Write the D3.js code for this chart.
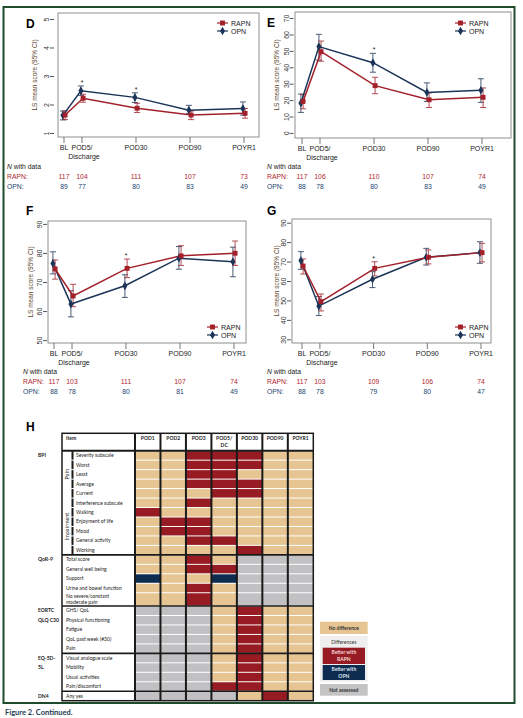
<!DOCTYPE html>
<html>
<head>
<meta charset="utf-8">
<script src="https://cdn.jsdelivr.net/npm/d3@7"></script>
<style>
    html, body { margin: 0; padding: 0; background: #fff; }
    svg { display: block; }
</style>
</head>
<body>
<div id="chart"></div>
<script>
// Visits on the x axis and where they sit on the study timeline.
var visits = ["BL", "POD5/|Discharge", "POD30", "POD90", "POYR1"];
var visitPos = [0, 1, 4, 7, 10];

// LS mean score per visit: [mean, lower 95% CI, upper 95% CI].
var dRapn = [[1.63, 1.47, 1.78], [2.22, 2.08, 2.36], [1.87, 1.72, 2.04], [1.63, 1.47, 1.77], [1.69, 1.52, 1.86]];
var dOpn  = [[1.62, 1.46, 1.77], [2.48, 2.32, 2.65], [2.25, 2.07, 2.41], [1.80, 1.68, 1.97], [1.86, 1.63, 2.09]];
var dStar = [false, true, true, false, false];
var dNRapn = [117, 104, 111, 107, 73];
var dNOpn  = [89, 77, 80, 83, 49];

var eRapn = [[19.2, 14.7, 23.3], [49.5, 43.7, 56.0], [28.8, 23.9, 33.9], [20.2, 15.5, 24.4], [21.7, 15.5, 27.4]];
var eOpn  = [[18.2, 12.5, 23.7], [52.6, 44.4, 60.1], [42.8, 37.0, 48.5], [24.7, 19.2, 30.5], [26.0, 18.6, 33.0]];
var eStar = [false, false, true, false, false];
var eNRapn = [117, 106, 110, 107, 74];
var eNOpn  = [88, 78, 80, 83, 49];

var fRapn = [[74.5, 71.0, 77.6], [65.2, 61.5, 69.2], [74.7, 71.5, 77.9], [79.0, 75.7, 82.5], [79.9, 75.7, 84.1]];
var fOpn  = [[76.4, 72.8, 80.4], [62.4, 58.0, 67.0], [68.7, 64.7, 72.5], [78.2, 74.4, 82.2], [77.0, 71.8, 82.0]];
var fStar = [false, false, true, false, false];
var fNRapn = [117, 103, 111, 107, 74];
var fNOpn  = [88, 78, 80, 81, 49];

var gRapn = [[67.7, 63.6, 71.3], [49.4, 44.6, 53.3], [66.5, 62.6, 69.9], [72.2, 68.8, 76.0], [74.6, 69.8, 79.4]];
var gOpn  = [[70.5, 66.0, 75.1], [47.1, 42.2, 52.0], [60.9, 56.6, 64.8], [72.2, 68.2, 76.8], [74.6, 69.1, 80.2]];
var gStar = [false, false, true, false, false];
var gNRapn = [117, 103, 109, 106, 74];
var gNOpn  = [88, 78, 79, 80, 47];

// Panel H: significance grid.
var heatCols = ["POD1", "POD2", "POD3", "POD5/|DC", "POD30", "POD90", "POYR1"];
var heatItems = ["Severity subscale", "Worst", "Least", "Average", "Current",
    "Interference subscale", "Walking", "Enjoyment of life", "Mood", "General activity", "Working",
    "Total score", "General well being", "Support", "Urine and bowel function", "No severe/constant|moderate pain",
    "GHS/ QoL", "Physical functioning", "Fatigue", "QoL past week (#30)", "Pain",
    "Visual analogue scale", "Mobility", "Usual activities", "Pain/discomfort",
    "Any yes"];
// N = no difference, R = better with RAPN, O = better with OPN, X = not assessed
var heatCodes = ["NNRRRNN", "NNRRRNN", "NNRRNNN", "NNRRRNN", "NNNRRNN",
    "NNRNNNN", "RNNNNNN", "NRRNNNN", "NRRNNNN", "NNRRNNN", "NNNNRNN",
    "NNRNXXX", "NNRRXXX", "ONNOXXX", "NNRNXXX", "NNRNXXX",
    "XXXNRNN", "XXXNRNN", "XXXNRNN", "XXXNRNN", "XXXNRNN",
    "XXXNRNN", "XXXNRNN", "XXXNRNN", "XXXRRNN",
    "XXXXNRN"];
var heatGroups = [["BPI"], ["QoR-9"], ["EORTC", "QLQ C30"], ["EQ-5D-", "5L"], ["DN4"]];
var heatGroupSize = [11, 5, 5, 4, 1];
var heatSubgroups = ["Pain", "Impairment"];
var heatSubgroupSize = [5, 6];

var RAPN_COL = "#a3202a";
var OPN_COL = "#1b3457";
var heatColor = { N: "#e6c592", R: "#961b22", O: "#0e2b50", X: "#c1c1c3" };
var FONT = "'Liberation Sans', Arial, sans-serif";
var TFONT = "Lato, 'Open Sans', sans-serif";

var svg = d3.select("#chart").append("svg")
    .attr("width", 523)
    .attr("height", 718);

// Green frame round the figure.
svg.append("rect")
    .attr("x", 3.5).attr("y", 7)
    .attr("width", 511).attr("height", 696)
    .attr("fill", "none")
    .attr("stroke", "#1e4b2c")
    .attr("stroke-width", 2);

svg.append("text")
    .attr("x", 5).attr("y", 715)
    .attr("font-family", TFONT).attr("font-weight", 700)
    .attr("font-size", 7.5).attr("fill", "#1d3b52")
    .text("Figure 2. Continued.");

function drawPanel(p) {
    var g = svg.append("g");
    var b = p.box; // x0, y0, x1, y1
    var x = d3.scaleLinear().domain([0, 10]).range(p.xRange);
    var y = d3.scaleLinear().domain(p.yDomain).range([b[3], b[1]]);

    g.append("rect")
        .attr("x", b[0]).attr("y", b[1])
        .attr("width", b[2] - b[0]).attr("height", b[3] - b[1])
        .attr("fill", "none").attr("stroke", "#8f8f8f").attr("stroke-width", 1);

    // Panel letter.
    g.append("text")
        .attr("x", p.letterAt[0]).attr("y", p.letterAt[1])
        .attr("font-family", FONT).attr("font-weight", 700).attr("font-size", 12)
        .text(p.letter);

    // Y axis, labels turned like the Stata original.
    var ya = g.append("g")
        .attr("transform", "translate(" + p.axisX + ",0)")
        .call(d3.axisLeft(y).tickValues(p.yTicks).tickSize(4).tickFormat(d3.format("d")));
    ya.select(".domain").remove();
    ya.selectAll("line").attr("stroke", "#555");
    ya.selectAll("text")
        .attr("x", 0).attr("dy", null)
        .attr("text-anchor", "middle")
        .attr("transform", "translate(-5,0) rotate(-90)")
        .attr("font-family", FONT).attr("font-size", 7).attr("fill", "#333");

    g.append("text")
        .attr("transform", "translate(" + p.titleX + "," + ((b[1] + b[3]) / 2) + ") rotate(-90)")
        .attr("text-anchor", "middle")
        .attr("font-family", FONT).attr("font-size", 6.5).attr("fill", "#5a4127")
        .text("LS mean score (95% CI)");

    // X axis ticks and visit labels.
    g.selectAll(".xt").data(visitPos).enter().append("line")
        .attr("x1", d => x(d)).attr("x2", d => x(d))
        .attr("y1", b[3]).attr("y2", b[3] + 6)
        .attr("stroke", "#777");

    visits.forEach(function(v, i) {
        v.split("|").forEach(function(line, k) {
            g.append("text")
                .attr("x", x(visitPos[i]) + (k ? 2 : 0)).attr("y", b[3] + 13 + k * 9)
                .attr("text-anchor", "middle")
                .attr("font-family", FONT).attr("font-size", 7).attr("fill", "#222")
                .text(line);
        });
    });

    var series = [
        { name: "OPN", data: p.opn, color: OPN_COL, shape: d3.symbolDiamond, size: 22, dodge: -0.06 },
        { name: "RAPN", data: p.rapn, color: RAPN_COL, shape: d3.symbolSquare, size: 24, dodge: 0.06 }
    ];

    // Error bars.
    series.forEach(function(s) {
        var eb = g.append("g").attr("stroke", s.color).attr("stroke-width", 1).attr("opacity", 0.8);
        s.data.forEach(function(d, i) {
            var cx = x(visitPos[i] + s.dodge);
            eb.append("line").attr("x1", cx).attr("x2", cx).attr("y1", y(d[1])).attr("y2", y(d[2]));
            eb.append("line").attr("x1", cx - 3).attr("x2", cx + 3).attr("y1", y(d[1])).attr("y2", y(d[1]));
            eb.append("line").attr("x1", cx - 3).attr("x2", cx + 3).attr("y1", y(d[2])).attr("y2", y(d[2]));
        });
    });

    // Lines and markers.
    series.forEach(function(s) {
        var line = d3.line()
            .x((d, i) => x(visitPos[i] + s.dodge))
            .y(d => y(d[0]));
        g.append("path")
            .attr("d", line(s.data))
            .attr("fill", "none").attr("stroke", s.color).attr("stroke-width", 1.5);
    });
    series.forEach(function(s) {
        g.selectAll(".m" + s.name).data(s.data).enter().append("path")
            .attr("d", d3.symbol().type(s.shape).size(s.size))
            .attr("transform", (d, i) => "translate(" + x(visitPos[i] + s.dodge) + "," + y(d[0]) + ")")
            .attr("fill", s.color);
    });

    // Significance stars.
    p.star.forEach(function(st, i) {
        if (!st) return;
        var top = Math.max(p.rapn[i][2], p.opn[i][2]);
        g.append("text")
            .attr("x", x(visitPos[i])).attr("y", y(top) - 1)
            .attr("text-anchor", "middle")
            .attr("font-family", FONT).attr("font-size", 7).attr("fill", "#222")
            .text("*");
    });

    // Legend.
    var leg = [series[1], series[0]];
    leg.forEach(function(s, k) {
        var ly = p.legend.y + k * 8;
        g.append("line")
            .attr("x1", p.legend.x).attr("x2", p.legend.x + 11)
            .attr("y1", ly).attr("y2", ly)
            .attr("stroke", s.color).attr("stroke-width", 1.2);
        g.append("path")
            .attr("d", d3.symbol().type(s.shape).size(s.size)())
            .attr("transform", "translate(" + (p.legend.x + 5.5) + "," + ly + ")")
            .attr("fill", s.color);
        g.append("text")
            .attr("x", p.legend.x + 14).attr("y", ly + 2.5)
            .attr("font-family", FONT).attr("font-size", 7).attr("fill", "#222")
            .text(s.name);
    });

    // Numbers with data.
    var nt = g.append("text")
        .attr("x", p.nAt[0]).attr("y", p.nAt[1])
        .attr("font-family", FONT).attr("font-size", 6.8).attr("fill", "#222");
    nt.append("tspan").attr("font-style", "italic").text("N");
    nt.append("tspan").text(" with data");

    [["RAPN:", p.nRapn, "#b0252c"], ["OPN:", p.nOpn, "#1d3f6e"]].forEach(function(r, k) {
        var ry = p.nAt[1] + 10 * (k + 1);
        g.append("text")
            .attr("x", p.nAt[0]).attr("y", ry)
            .attr("font-family", FONT).attr("font-size", 6.8).attr("fill", r[2])
            .text(r[0]);
        g.selectAll(".n" + k).data(r[1]).enter().append("text")
            .attr("x", (d, i) => x(visitPos[i]))
            .attr("y", ry)
            .attr("text-anchor", "middle")
            .attr("font-family", FONT).attr("font-size", 6.8).attr("fill", r[2])
            .text(d => d);
    });
}

drawPanel({ letter: "D", letterAt: [26, 28], box: [58, 13, 259, 137], xRange: [64, 244],
    yDomain: [0.86, 5.21], yTicks: [1, 2, 3, 4, 5], axisX: 54, titleX: 37,
    rapn: dRapn, opn: dOpn, star: dStar, nRapn: dNRapn, nOpn: dNOpn,
    legend: { x: 217, y: 23 }, nAt: [7, 169] });

drawPanel({ letter: "E", letterAt: [267, 27], box: [295, 12, 511, 138], xRange: [302, 482],
    yDomain: [-3.1, 73.7], yTicks: [0, 10, 20, 30, 40, 50, 60, 70], axisX: 293.5, titleX: 279,
    rapn: eRapn, opn: eOpn, star: eStar, nRapn: eNRapn, nOpn: eNOpn,
    legend: { x: 455, y: 23 }, nAt: [267, 169] });

drawPanel({ letter: "F", letterAt: [26, 215], box: [48, 221, 246, 343], xRange: [54, 234],
    yDomain: [49, 91], yTicks: [50, 60, 70, 80, 90], axisX: 47, titleX: 33,
    rapn: fRapn, opn: fOpn, star: fStar, nRapn: fNRapn, nOpn: fNOpn,
    legend: { x: 207, y: 327 }, nAt: [23, 374] });

drawPanel({ letter: "G", letterAt: [267, 215], box: [292, 219, 491, 343], xRange: [302, 481],
    yDomain: [28.1, 91.9], yTicks: [30, 40, 50, 60, 70, 80, 90], axisX: 291, titleX: 279,
    rapn: gRapn, opn: gOpn, star: gStar, nRapn: gNRapn, nOpn: gNOpn,
    legend: { x: 455, y: 327 }, nAt: [267, 374] });

// ---------- Panel H ----------
function drawHeat() {
    var g = svg.append("g");
    var left = 62, itemRight = 135, right = 313.3, top = 433.3, headBottom = 450.7, bottom = 700.7;

    g.append("text")
        .attr("x", 26).attr("y", 431)
        .attr("font-family", FONT).attr("font-weight", 700).attr("font-size", 12)
        .text("H");

    // Row heights in units; two-line items are taller.
    var units = heatItems.map(d => d.indexOf("|") >= 0 ? 1.4 : 1);
    var starts = [];
    units.reduce(function(acc, u) { starts.push(acc); return acc + u; }, 0);
    var total = d3.sum(units);

    var colX = d3.scaleBand().domain(heatCols).range([itemRight, right]);
    var rowY = d3.scaleLinear().domain([0, total]).range([headBottom, bottom]);

    // Header.
    g.append("rect")
        .attr("x", left).attr("y", top).attr("width", right - left).attr("height", headBottom - top)
        .attr("fill", "#fff");
    g.append("text")
        .attr("x", left + 4).attr("y", top + 6.5)
        .attr("font-family", TFONT).attr("font-weight", 700).attr("font-size", 5).attr("fill", "#222")
        .text("Item");
    heatCols.forEach(function(c) {
        c.split("|").forEach(function(line, k) {
            g.append("text")
                .attr("x", colX(c) + colX.bandwidth() / 2).attr("y", top + 6.5 + k * 7)
                .attr("text-anchor", "middle")
                .attr("font-family", TFONT).attr("font-weight", 700).attr("font-size", 5).attr("fill", "#222")
                .text(line);
        });
    });

    // Cells.
    heatItems.forEach(function(item, i) {
        var y0 = rowY(starts[i]), y1 = rowY(starts[i] + units[i]);
        heatCols.forEach(function(c, j) {
            g.append("rect")
                .attr("x", colX(c)).attr("y", y0 + 0.5)
                .attr("width", colX.bandwidth()).attr("height", y1 - y0 - 1)
                .attr("fill", heatColor[heatCodes[i][j]]);
        });
    });

    // Subgroups (Pain / Impairment) inside BPI.
    var subStart = 0;
    heatSubgroups.forEach(function(s, k) {
        var n = heatSubgroupSize[k];
        for (var i = subStart; i < subStart + n; i++) {
            var y0 = rowY(starts[i]), y1 = rowY(starts[i] + units[i]);
            g.append("rect")
                .attr("x", 71.5).attr("y", y0 + 0.5).attr("width", 2).attr("height", y1 - y0 - 1)
                .attr("fill", "#1a1a1a");
        }
        var cy = (rowY(starts[subStart]) + rowY(starts[subStart + n - 1] + units[subStart + n - 1])) / 2;
        g.append("text")
            .attr("transform", "translate(69," + cy + ") rotate(-90)")
            .attr("text-anchor", "middle")
            .attr("font-family", TFONT).attr("font-size", 5.5).attr("fill", "#222")
            .text(s);
        subStart += n;
    });
    var nSub = d3.sum(heatSubgroupSize);

    // Item labels.
    heatItems.forEach(function(item, i) {
        var lines = item.split("|");
        var cy = (rowY(starts[i]) + rowY(starts[i] + units[i])) / 2;
        lines.forEach(function(line, k) {
            g.append("text")
                .attr("x", i < nSub ? 76 : 66)
                .attr("y", cy + (k - (lines.length - 1) / 2) * 5.5)
                .attr("dy", "0.35em")
                .attr("font-family", TFONT).attr("font-size", 5).attr("fill", "#222")
                .text(line);
        });
    });

    // Group labels and separators.
    var gStart = 0;
    heatGroups.forEach(function(lab, k) {
        lab.forEach(function(line, m) {
            var r = gStart + m;
            g.append("text")
                .attr("x", 38).attr("y", (rowY(starts[r]) + rowY(starts[r] + 1)) / 2)
                .attr("dy", "0.35em")
                .attr("font-family", TFONT).attr("font-weight", 700).attr("font-size", 5).attr("fill", "#222")
                .text(line);
        });
        if (k > 0) {
            g.append("line")
                .attr("x1", left).attr("x2", right)
                .attr("y1", rowY(starts[gStart])).attr("y2", rowY(starts[gStart]))
                .attr("stroke", "#1a1a1a").attr("stroke-width", 1.6);
        }
        gStart += heatGroupSize[k];
    });

    // Column rules, header rule and outline.
    colX.domain().forEach(function(c) {
        g.append("line")
            .attr("x1", colX(c)).attr("x2", colX(c))
            .attr("y1", top).attr("y2", bottom)
            .attr("stroke", "#1a1a1a").attr("stroke-width", 2);
    });
    g.append("line")
        .attr("x1", left).attr("x2", right).attr("y1", headBottom).attr("y2", headBottom)
        .attr("stroke", "#1a1a1a").attr("stroke-width", 2);
    g.append("rect")
        .attr("x", left).attr("y", top).attr("width", right - left).attr("height", bottom - top)
        .attr("fill", "none").attr("stroke", "#1a1a1a").attr("stroke-width", 1.5);

    // Key.
    var kx = 320, kw = 47.7, kc = kx + kw / 2;
    function keyText(txt, y, col, bold) {
        g.append("text")
            .attr("x", kc).attr("y", y).attr("dy", "0.35em")
            .attr("text-anchor", "middle")
            .attr("font-family", TFONT).attr("font-weight", bold ? 700 : 400)
            .attr("font-size", 5).attr("fill", col)
            .text(txt);
    }
    g.append("rect").attr("x", kx).attr("y", 621.7).attr("width", kw).attr("height", 12.3).attr("fill", heatColor.N);
    keyText("No difference", 627.8, "#333", true);
    g.append("rect").attr("x", kx).attr("y", 636).attr("width", kw).attr("height", 45.7).attr("fill", "#efefef");
    keyText("Differences", 642.5, "#333", false);
    g.append("rect").attr("x", kx + 2.7).attr("y", 647.7).attr("width", kw - 5.4).attr("height", 16.3).attr("fill", heatColor.R);
    keyText("Better with", 652.5, "#f3dada", true);
    keyText("RAPN", 659.5, "#f3dada", true);
    g.append("rect").attr("x", kx + 2.7).attr("y", 665).attr("width", kw - 5.4).attr("height", 15).attr("fill", heatColor.O);
    keyText("Better with", 669.5, "#dfe6f0", true);
    keyText("OPN", 676.3, "#dfe6f0", true);
    g.append("rect").attr("x", kx).attr("y", 684).attr("width", kw).attr("height", 11.7).attr("fill", "#c4c4c4");
    keyText("Not assessed", 689.8, "#333", true);
}

drawHeat();
</script>
</body>
</html>
